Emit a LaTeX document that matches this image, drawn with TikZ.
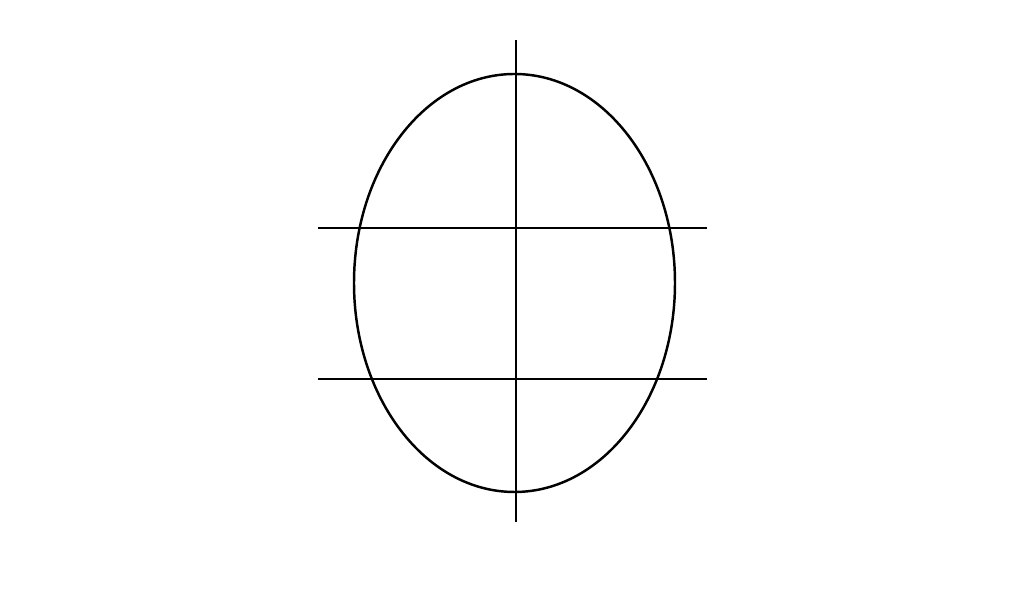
\documentclass[tikz,border=0pt]{standalone}
\usepackage{tikz}

\begin{document}
\begin{tikzpicture}[line width=0.7pt]
            \useasboundingbox (0,0) rectangle (10.24,5.98);

            \coordinate (centre) at (5.145,3.15);
            \coordinate (top) at (5.16,5.58);
            \coordinate (bottom) at (5.16,0.76);
            \coordinate (upperleft) at (3.18,3.70);
            \coordinate (upperright) at (7.07,3.70);
            \coordinate (lowerleft) at (3.18,2.19);
            \coordinate (lowerright) at (7.07,2.19);

            \draw (centre) ellipse [x radius=1.605, y radius=2.09];
            \draw (top) -- (bottom);
            \draw (upperleft) -- (upperright);
            \draw (lowerleft) -- (lowerright);
        \end{tikzpicture}
\end{document}
